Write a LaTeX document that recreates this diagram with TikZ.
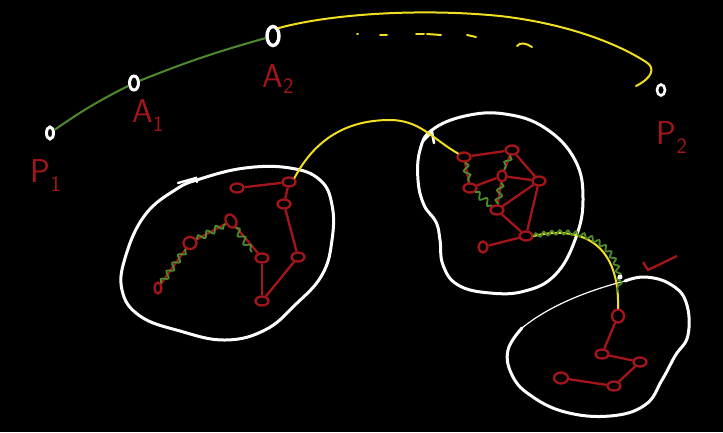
\documentclass[tikz,border=0pt]{standalone}
\usetikzlibrary{shapes.geometric,decorations.pathmorphing}
\definecolor{yl}{HTML}{F0E020}
\definecolor{gr}{HTML}{4E8A2E}
\definecolor{rd}{HTML}{A4161A}
\begin{document}
\begin{tikzpicture}[x=1pt,y=-1pt,
  wpt/.style={draw=white,line width=3pt,ellipse,inner sep=0pt},
  rn/.style={draw=rd,line width=2.3pt,ellipse,inner sep=0pt,minimum width=13pt,minimum height=9pt},
  re/.style={draw=rd,line width=2.3pt},
  gl/.style={draw=gr,line width=2pt},
  gw/.style={draw=gr,line width=1.8pt,decorate,decoration={snake,amplitude=3pt,segment length=10pt}},
  yline/.style={draw=yl,line width=2pt,line cap=round},
  blob/.style={draw=white,line width=3pt,line cap=round},
  lab/.style={text=rd,font=\sffamily\fontsize{33}{33}\selectfont,inner sep=0pt}
]
\fill[black] (0,0) rectangle (723,432);
\useasboundingbox (0,0) rectangle (723,432);

% top row of points
\node[wpt,minimum width=7pt,minimum height=12pt] (P1) at (50,133) {};
\node[wpt,minimum width=9pt,minimum height=14pt] (A1) at (134,83) {};
\node[wpt,minimum width=12pt,minimum height=19pt,line width=3.4pt] (A2) at (273,36) {};
\node[wpt,minimum width=8pt,minimum height=11pt,line width=2.6pt] (P2) at (661,90) {};

\node[lab] (lP1) at (46,176) {P\raisebox{-9pt}{\fontsize{22}{22}\selectfont 1}};
\node[lab] (lA1) at (148,116) {A\raisebox{-9pt}{\fontsize{22}{22}\selectfont 1}};
\node[lab] (lA2) at (278,79) {A\raisebox{-6pt}{\fontsize{22}{22}\selectfont 2}};
\node[lab] (lP2) at (672,138) {P\raisebox{-9pt}{\fontsize{22}{22}\selectfont 2}};

\draw[gl] (P1) to[bend left=4] (A1);
\draw[gl] (A1) to[bend left=3] (A2);

\draw[yline] (A2.north east) .. controls (330,14) and (420,8) .. (500,16)
  .. controls (570,24) and (620,45) .. (646,62)
  .. controls (656,68) and (652,78) .. (636,86);

% dashes
\draw[yline] (357,34) -- (358,34);
\draw[yline] (380,35) -- (387,35);
\draw[yline] (416,34) -- (424,34);
\draw[yline] (427,34) -- (441,35);
\draw[yline] (467,35) -- (476,37);
\draw[yline] (517,46) .. controls (520,42) and (526,43) .. (532,47);

% blob 1
\draw[blob] plot[smooth cycle,tension=0.7] coordinates {(200,179) (245,168) (290,168) (320,180) (332,205) (332,240) (322,275) (295,305) (265,330) (225,340) (180,331) (140,316) (122,290) (126,255) (145,215) (175,190)};
\draw[blob,line width=2.4pt] (178,183) -- (196,178) -- (197,182);

\node[rn] (a) at (237,188) {};
\node[rn] (b) at (289,182) {};
\node[rn] (c) at (284,204) {};
\node[rn] (d) at (298,257) {};
\node[rn] (e) at (262,301) {};
\node[rn] (f) at (262,258) {};
\node[rn,minimum width=10pt,minimum height=14pt,rotate=30] (g) at (231,221) {};
\node[rn,minimum width=13pt,minimum height=12pt] (h) at (190,243) {};
\node[rn,minimum width=7pt,minimum height=11pt] (i) at (158,288) {};
\coordinate (gf) at (252,252);

\draw[re] (a) -- (b);
\draw[re] (b) -- (c);
\draw[re] (c) -- (d);
\draw[re] (d) -- (e);
\draw[re] (e) -- (f);
\draw[re] (f) -- (g);
\draw[re] (g) -- (h);
\draw[re] (h) -- (i);
\draw[gw] (i) -- (h);
\draw[gw] (h) -- (g);
\draw[gw] (g) -- (gf);

% blob 2
\draw[blob] plot[smooth cycle,tension=0.7] coordinates {(432,130) (465,116) (505,114) (545,128) (575,160) (583,200) (575,240) (555,275) (525,291) (490,293) (458,285) (443,265) (440,240) (436,222) (424,205) (418,180) (420,150)};
\draw[blob,line width=2.6pt] (423,141) -- (432,132) -- (434,143);

\node[rn] (p) at (464,157) {};
\node[rn] (q) at (512,150) {};
\node[rn] (r) at (539,181) {};
\node[rn,minimum width=9pt,minimum height=11pt] (s) at (502,176) {};
\node[rn] (t) at (470,188) {};
\node[rn] (u) at (497,210) {};
\node[rn] (v) at (526,236) {};
\node[rn,minimum width=9pt,minimum height=11pt] (w) at (483,247) {};

\draw[re] (p) -- (q);
\draw[re] (p) -- (t);
\draw[re] (q) -- (r);
\draw[re] (q) -- (s);
\draw[re] (t) -- (s);
\draw[re] (s) -- (r);
\draw[re] (s) -- (u);
\draw[re] (u) -- (r);
\draw[re] (u) -- (v);
\draw[re] (r) -- (v);
\draw[re] (v) -- (w);
\draw[gw] (p) -- (t);
\draw[gw] (q) -- (s);
\draw[gw] (s) -- (u);
\draw[gw] (t) -- (u);

% connector blob1 -> blob2
\draw[yline] (b.north east) to[out=62,in=180] (390,120) to[out=0,in=150] (p);

% blob 3
\draw[blob] plot[smooth,tension=0.7] coordinates {(522,328) (508,350) (512,375) (530,395) (565,412) (610,416) (645,405) (662,380) (675,356) (688,335) (686,302) (670,284) (645,277) (625,281)};
\draw[draw=white,line width=1.2pt] (625,281) .. controls (590,290) and (550,305) .. (522,328);

\node[rn,minimum width=12pt,minimum height=13pt] (m1) at (618,316) {};
\node[rn] (m2) at (602,354) {};
\node[rn] (m3) at (640,362) {};
\node[rn] (m4) at (614,386) {};
\node[rn,minimum width=14pt,minimum height=11pt] (m5) at (561,378) {};

\draw[re] (m1) -- (m2);
\draw[re] (m2) -- (m3);
\draw[re] (m3) -- (m4);
\draw[re] (m4) -- (m5);

% connector blob2 -> blob3
\draw[yline] (v.east) .. controls (575,226) and (620,238) .. (m1.north);
\draw[gw,decoration={snake,amplitude=2.2pt,segment length=8pt}] (v.east) .. controls (575,226) and (620,238) .. (618,292);
\fill[white] (620,277) circle (2.5pt);

% check mark
\draw[re] (643,262) -- (648,270) -- (677,256);
\end{tikzpicture}
\end{document}
